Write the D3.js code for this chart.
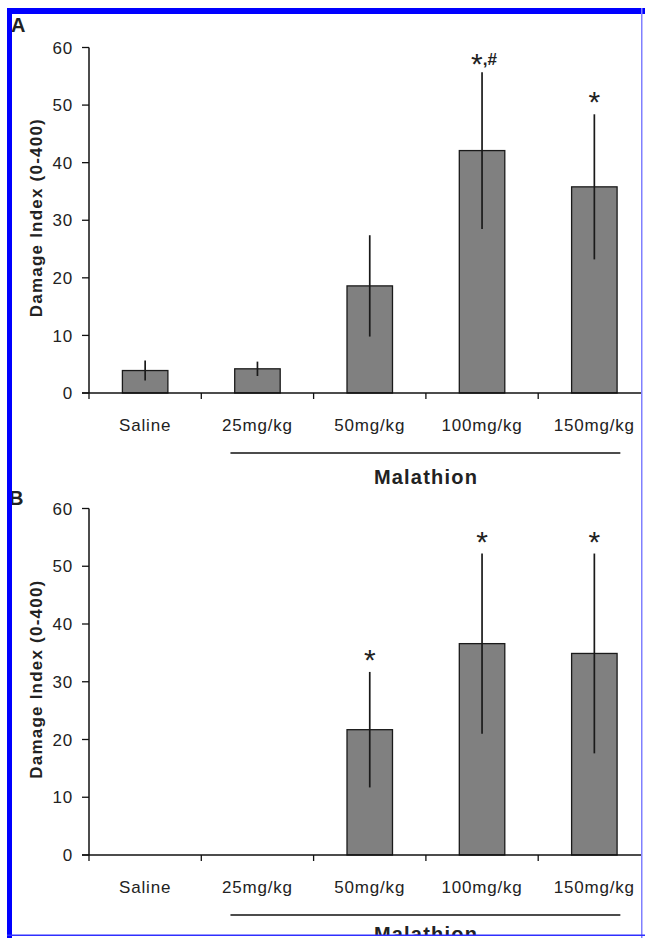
<!DOCTYPE html>
<html>
<head>
<meta charset="utf-8">
<script src="https://cdn.jsdelivr.net/npm/d3@7"></script>
<style>
  html, body { margin: 0; padding: 0; background: #fff; }
  svg { display: block; }
  text { font-family: "Liberation Sans", Arial, sans-serif; fill: #222; }
</style>
</head>
<body>
<script>
// ---- data ----
const categories = ["Saline", "25mg/kg", "50mg/kg", "100mg/kg", "150mg/kg"];
const meanA = [3.9, 4.2, 18.6, 42.1, 35.8];
const errA  = [1.75, 1.25, 8.8, 13.6, 12.6];
const sigA  = ["", "", "", "*,#", "*"];
const meanB = [0, 0, 21.7, 36.6, 34.9];
const errB  = [0, 0, 10.0, 15.6, 17.3];
const sigB  = ["", "", "*", "*", "*"];
const yTicks = [0, 10, 20, 30, 40, 50, 60];
const yDomain = [0, 60];
const yTitle = "Damage Index (0-400)";
const groupLabel = "Malathion";
const panelLetters = ["A", "B"];

// ---- layout ----
const W = 645, H = 938;
const svg = d3.select("body").append("svg").attr("width", W).attr("height", H);
svg.append("rect").attr("width", W).attr("height", H).attr("fill", "#fff");

const x = d3.scaleBand()
  .domain(categories)
  .range([89, 650.5])
  .paddingInner(0.595)
  .paddingOuter(0.2975);

const panels = [
  { letter: panelLetters[0], mean: meanA, err: errA, sig: sigA, top: 47.5, bottom: 393, letterY: 32, letterX: 11, groupDy: 91 },
  { letter: panelLetters[1], mean: meanB, err: errB, sig: sigB, top: 508.5, bottom: 855, letterY: 505, letterX: 9, groupDy: 86 }
];

panels.forEach(p => {
  const g = svg.append("g");
  const y = d3.scaleLinear().domain(yDomain).range([p.bottom, p.top]);

  // bars
  g.selectAll("rect.bar")
    .data(categories.map((c, i) => ({ c, v: p.mean[i] })))
    .join("rect")
    .attr("class", "bar")
    .attr("x", d => x(d.c))
    .attr("width", x.bandwidth())
    .attr("y", d => y(d.v))
    .attr("height", d => y(0) - y(d.v))
    .attr("fill", d => d.v > 0 ? "#808080" : "none")
    .attr("stroke", d => d.v > 0 ? "#1a1a1a" : "none")
    .attr("stroke-width", 1.3);

  // error bars
  g.selectAll("line.err")
    .data(categories.map((c, i) => ({ c, v: p.mean[i], e: p.err[i] })).filter(d => d.e > 0))
    .join("line")
    .attr("x1", d => x(d.c) + x.bandwidth() / 2)
    .attr("x2", d => x(d.c) + x.bandwidth() / 2)
    .attr("y1", d => y(d.v - d.e))
    .attr("y2", d => y(d.v + d.e))
    .attr("stroke", "#1a1a1a")
    .attr("stroke-width", 1.7);

  // significance marks
  categories.forEach((c, i) => {
    const s = p.sig[i];
    if (!s) return;
    const cx = x(c) + x.bandwidth() / 2;
    const yTop = y(p.mean[i] + p.err[i]);
    const multi = s.length > 1;
    const t = g.append("text")
      .attr("text-anchor", "middle")
      .attr("x", multi ? cx + 2 : cx)
      .attr("y", multi ? yTop + 2 : yTop - 2);
    t.append("tspan").attr("font-size", 30).text(s[0]);
    if (multi) {
      t.append("tspan").attr("font-size", 17).attr("font-weight", "bold")
        .attr("dy", -9).text(s.slice(1));
    }
  });

  // y axis
  g.append("line")
    .attr("x1", 89).attr("x2", 89)
    .attr("y1", y(yDomain[1])).attr("y2", y(0))
    .attr("stroke", "#111").attr("stroke-width", 1.5);
  g.selectAll("line.ytick").data(yTicks).join("line")
    .attr("x1", 82).attr("x2", 89)
    .attr("y1", d => y(d)).attr("y2", d => y(d))
    .attr("stroke", "#111").attr("stroke-width", 1.3);
  g.selectAll("text.ytl").data(yTicks).join("text")
    .attr("x", 73).attr("y", d => y(d)).attr("dy", "0.36em")
    .attr("text-anchor", "end")
    .attr("font-size", 17).attr("letter-spacing", 0.8)
    .text(d => d);

  // x axis
  g.append("line")
    .attr("x1", 82).attr("x2", 641)
    .attr("y1", y(0)).attr("y2", y(0))
    .attr("stroke", "#111").attr("stroke-width", 1.5);
  g.selectAll("line.xtick").data(categories).join("line")
    .attr("x1", d => x(d) - x.step() * x.paddingOuter())
    .attr("x2", d => x(d) - x.step() * x.paddingOuter())
    .attr("y1", y(0)).attr("y2", y(0) + 6)
    .attr("stroke", "#111").attr("stroke-width", 1.3);
  g.selectAll("text.xtl").data(categories).join("text")
    .attr("x", d => x(d) + x.bandwidth() / 2)
    .attr("y", y(0) + 38)
    .attr("text-anchor", "middle")
    .attr("font-size", 17).attr("letter-spacing", 0.8)
    .text(d => d);

  // Malathion grouping line + label
  const gx1 = x(categories[1]) + x.bandwidth() / 2 - 27;
  const gx2 = x(categories[4]) + x.bandwidth() / 2 + 26;
  g.append("line")
    .attr("x1", gx1).attr("x2", gx2)
    .attr("y1", y(0) + 60).attr("y2", y(0) + 60)
    .attr("stroke", "#111").attr("stroke-width", 1.5);
  g.append("text")
    .attr("x", (gx1 + gx2) / 2).attr("y", y(0) + p.groupDy)
    .attr("text-anchor", "middle")
    .attr("font-size", 20).attr("font-weight", "bold")
    .attr("textLength", 103).attr("lengthAdjust", "spacing")
    .attr("fill", "#111")
    .text(groupLabel);

  // y title
  g.append("text")
    .attr("transform", `translate(42,${(p.top + p.bottom) / 2 - 2}) rotate(-90)`)
    .attr("text-anchor", "middle")
    .attr("font-size", 17).attr("font-weight", "bold")
    .attr("textLength", 198).attr("lengthAdjust", "spacing")
    .attr("fill", "#111")
    .text(yTitle);

  // panel letter
  g.append("text")
    .attr("x", p.letterX).attr("y", p.letterY)
    .attr("font-size", 20).attr("font-weight", "bold")
    .attr("fill", "#111")
    .text(p.letter);
});

// frame (blue border of the figure)
svg.append("rect").attr("x", 0).attr("y", 936).attr("width", W).attr("height", 2).attr("fill", "#fff");
svg.append("rect").attr("x", 7).attr("y", 8).attr("width", W - 7).attr("height", 6).attr("fill", "#0000ff");
svg.append("rect").attr("x", 7).attr("y", 8).attr("width", 5).attr("height", H - 8).attr("fill", "#0000ff");
svg.append("rect").attr("x", 641).attr("y", 8).attr("width", 1.5).attr("height", H - 8).attr("fill", "#8080ff");
svg.append("rect").attr("x", 7).attr("y", 934.5).attr("width", W - 7).attr("height", 1.5).attr("fill", "#3030ff");
</script>
</body>
</html>
